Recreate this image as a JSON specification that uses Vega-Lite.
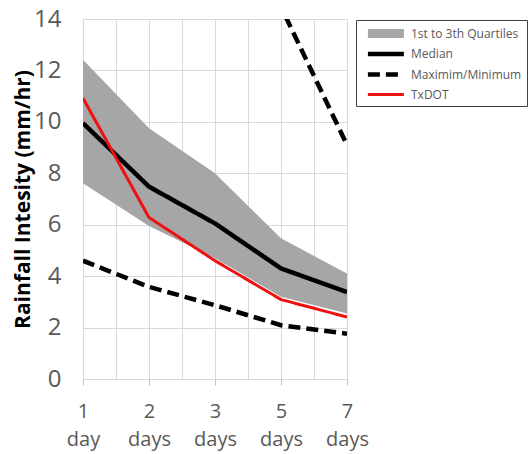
{
  "$schema": "https://vega.github.io/schema/vega-lite/v6.json",
  "width": 264,
  "height": 360,
  "autosize": "none",
  "padding": {"left": 83, "top": 19, "right": 183, "bottom": 75},
  "background": "white",
  "data": {
    "values": [
      {"d": 0, "s": "1st to 3th Quartiles", "line": "q", "v": 12.42, "v2": 7.61},
      {"d": 1, "s": "1st to 3th Quartiles", "line": "q", "v": 9.75, "v2": 5.95},
      {"d": 2, "s": "1st to 3th Quartiles", "line": "q", "v": 8.0, "v2": 4.7},
      {"d": 3, "s": "1st to 3th Quartiles", "line": "q", "v": 5.47, "v2": 3.2},
      {"d": 4, "s": "1st to 3th Quartiles", "line": "q", "v": 4.1, "v2": 2.55},
      {"d": 0, "s": "Maximim/Minimum", "line": "max", "v": 40},
      {"d": 1, "s": "Maximim/Minimum", "line": "max", "v": 26},
      {"d": 2, "s": "Maximim/Minimum", "line": "max", "v": 19},
      {"d": 3, "s": "Maximim/Minimum", "line": "max", "v": 14.47},
      {"d": 4, "s": "Maximim/Minimum", "line": "max", "v": 9.1},
      {"d": 0, "s": "Maximim/Minimum", "line": "min", "v": 4.6},
      {"d": 1, "s": "Maximim/Minimum", "line": "min", "v": 3.58},
      {"d": 2, "s": "Maximim/Minimum", "line": "min", "v": 2.87},
      {"d": 3, "s": "Maximim/Minimum", "line": "min", "v": 2.09},
      {"d": 4, "s": "Maximim/Minimum", "line": "min", "v": 1.76},
      {"d": 0, "s": "Median", "line": "median", "v": 9.95},
      {"d": 1, "s": "Median", "line": "median", "v": 7.48},
      {"d": 2, "s": "Median", "line": "median", "v": 6.05},
      {"d": 3, "s": "Median", "line": "median", "v": 4.3},
      {"d": 4, "s": "Median", "line": "median", "v": 3.38},
      {"d": 0, "s": "TxDOT", "line": "txdot", "v": 10.92},
      {"d": 1, "s": "TxDOT", "line": "txdot", "v": 6.28},
      {"d": 2, "s": "TxDOT", "line": "txdot", "v": 4.6},
      {"d": 3, "s": "TxDOT", "line": "txdot", "v": 3.09},
      {"d": 4, "s": "TxDOT", "line": "txdot", "v": 2.41}
    ]
  },
  "encoding": {
    "x": {
      "field": "d",
      "type": "quantitative",
      "scale": {"domain": [0, 4], "nice": false, "zero": false},
      "axis": {
        "title": null,
        "values": [0, 0.5, 1, 1.5, 2, 2.5, 3, 3.5, 4],
        "grid": true,
        "gridColor": "#d9d9d9",
        "domainColor": "#d9d9d9",
        "tickColor": "#bfbfbf",
        "tickSize": 6,
        "tickOpacity": {"condition": {"test": "datum.value % 1 === 0", "value": 1}, "value": 0},
        "labelExpr": "datum.value == 0 ? ['1','day'] : datum.value == 1 ? ['2','days'] : datum.value == 2 ? ['3','days'] : datum.value == 3 ? ['5','days'] : datum.value == 4 ? ['7','days'] : ''",
        "labelFont": "Open Sans",
        "labelFontSize": 20,
        "labelColor": "#595959",
        "labelLineHeight": 28,
        "labelPadding": 16,
        "labelFlush": false,
        "labelOverlap": false
      }
    },
    "y": {
      "field": "v",
      "type": "quantitative",
      "scale": {"domain": [0, 14], "nice": false},
      "axis": {
        "title": "Rainfall Intesity (mm/hr)",
        "values": [0, 2, 4, 6, 8, 10, 12, 14],
        "grid": true,
        "gridColor": "#d9d9d9",
        "domain": false,
        "ticks": false,
        "labelFont": "Open Sans",
        "labelFontSize": 24,
        "labelColor": "#595959",
        "labelPadding": 22,
        "titleFont": "Open Sans",
        "titleFontSize": 21,
        "titleFontWeight": "bold",
        "titleColor": "black",
        "titlePadding": 0
      }
    },
    "color": {
      "field": "s",
      "type": "nominal",
      "scale": {
        "domain": ["1st to 3th Quartiles", "Median", "Maximim/Minimum", "TxDOT"],
        "range": ["#a6a6a6", "#000000", "#000000", "#ee1111"]
      },
      "legend": {
        "encode": {
          "symbols": {
            "update": {
              "stroke": {"signal": "scale('color', datum.value)"},
              "strokeWidth": {"signal": "datum.value === '1st to 3th Quartiles' ? 8 : 2.5"},
              "strokeDash": {"signal": "datum.value === 'Maximim/Minimum' ? [9, 4.5] : [1, 0]"},
              "strokeJoin": {"value": "bevel"}
            }
          }
        }
      }
    }
  },
  "layer": [
    {
      "transform": [{"filter": "datum.s === '1st to 3th Quartiles'"}],
      "mark": {"type": "area", "opacity": 1},
      "encoding": {
        "y2": {"field": "v2"}
      }
    },
    {
      "transform": [{"filter": "datum.s !== '1st to 3th Quartiles'"}],
      "mark": {"type": "line", "clip": true, "strokeCap": "butt"},
      "encoding": {
        "detail": {"field": "line"},
        "strokeDash": {"field": "s", "type": "nominal", "legend": null,
          "scale": {"domain": ["1st to 3th Quartiles", "Median", "Maximim/Minimum", "TxDOT"], "range": [[1, 0], [1, 0], [12, 6], [1, 0]]}},
        "strokeWidth": {"field": "s", "type": "nominal", "legend": null,
          "scale": {"type": "ordinal", "domain": ["1st to 3th Quartiles", "Median", "Maximim/Minimum", "TxDOT"], "range": [9, 4.5, 4.5, 3]}}
      }
    }
  ],
  "config": {
    "view": {"stroke": null},
    "legend": {
      "title": null,
      "orient": "none",
      "legendX": 273,
      "legendY": 1,
      "symbolType": "M-0.4,0H8.6",
      "symbolSize": 64,
      "labelFont": "Open Sans",
      "labelFontSize": 12,
      "labelColor": "#595959",
      "labelOffset": 33,
      "strokeColor": "#404040",
      "fillColor": "white",
      "padding": 5,
      "rowPadding": 7.5,
      "symbolStrokeWidth": 3,
      "symbolOpacity": 1
    }
  }
}
